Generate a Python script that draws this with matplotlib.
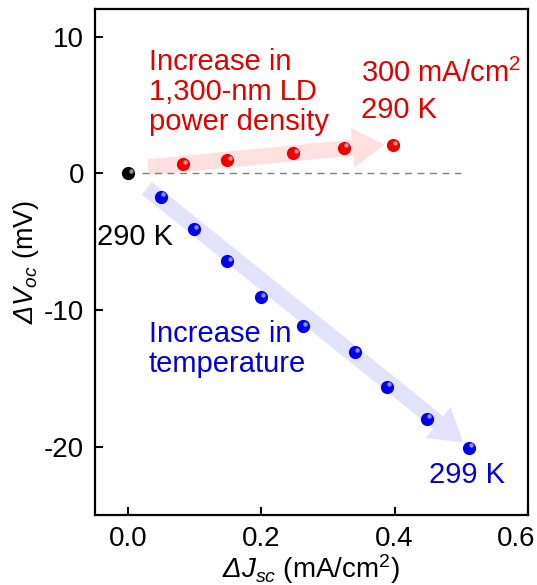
import numpy as np
import matplotlib
matplotlib.use('Agg')
import matplotlib.pyplot as plt
from matplotlib.patches import FancyArrowPatch
from matplotlib import transforms

plt.rcParams['font.family'] = ['Liberation Sans', 'DejaVu Sans']
plt.rcParams['mathtext.fontset'] = 'custom'
# axis-label math is all italic in the original (Delta included)
plt.rcParams['mathtext.rm'] = 'Liberation Sans:italic'
plt.rcParams['mathtext.it'] = 'Liberation Sans:italic'
plt.rcParams['mathtext.sf'] = 'Liberation Sans'

# ---- data
origin_j = [0.0]
origin_v = [0.0]

# increasing 1,300-nm LD power density (290 K)
ld_j = [0.082, 0.149, 0.248, 0.324, 0.398]
ld_v = [0.68, 0.97, 1.46, 1.87, 2.07]

# increasing temperature 290 -> 299 K
temp_j = [0.049, 0.099, 0.149, 0.199, 0.262, 0.340, 0.389, 0.449, 0.512]
temp_v = [-1.71, -4.09, -6.45, -9.08, -11.2, -13.1, -15.6, -17.96, -20.07]

# guide arrows (tail, tip)
ld_arrow = [(0.03, 0.45), (0.385, 2.1)]
temp_arrow = [(0.028, -1.1), (0.503, -19.7)]

xticks = [0.0, 0.2, 0.4, 0.6]
yticks = [10, 0, -10, -20]

fig = plt.figure(figsize=(5.37, 5.85), dpi=100)
ax = fig.add_axes([0.1769, 0.1197, 0.8058, 0.8643])

ax.set_xlim(-0.05, 0.6)
ax.set_ylim(-25, 12)

# arrows in the background
for (tail, tip), col in [(ld_arrow, '#ffe0e0'), (temp_arrow, '#e2e2fa')]:
    arr = FancyArrowPatch(tail, tip, arrowstyle='simple,head_width=2.6,head_length=2.1,tail_width=1.05',
                          mutation_scale=11, color=col, lw=0, shrinkA=0, shrinkB=0, zorder=1)
    ax.add_patch(arr)

ax.plot([0.02, 0.5], [0, 0], ls=(0, (5, 4)), color='#808080', lw=1, zorder=2)


def balls(x, y, col):
    # shaded sphere look: dark body plus a small highlight
    ax.plot(x, y, 'o', ms=9.5, color=col, mec='none', zorder=4)
    hl = transforms.offset_copy(ax.transData, fig=fig, x=1.6, y=1.8, units='points')
    ax.plot(x, y, 'o', ms=3.2, color='white', alpha=0.55, mec='none', transform=hl, zorder=5)


balls(origin_j, origin_v, '#000000')
balls(ld_j, ld_v, '#ee0000')
balls(temp_j, temp_v, '#0000ee')

fs = 21
ax.text(0.031, 5.96, 'Increase in\n1,300-nm LD\npower density', color='#e00000',
        fontsize=fs, ha='left', va='center', linespacing=1.1)
ax.text(0.35, 6.0, r'300 mA/cm$^\mathsf{2}$' + '\n290 K', color='#e00000',
        fontsize=fs, ha='left', va='center', linespacing=1.4)
ax.text(-0.047, -4.63, '290 K', color='black', fontsize=fs, ha='left', va='center')
ax.text(0.031, -12.85, 'Increase in\ntemperature', color='#0000dd',
        fontsize=fs, ha='left', va='center', linespacing=1.1)
ax.text(0.452, -22.1, '299 K', color='#0000dd', fontsize=fs, ha='left', va='center')

ax.set_xticks(xticks)
ax.set_xticklabels(['%.1f' % t for t in xticks])
ax.set_yticks(yticks)
ax.set_yticklabels([str(t) for t in yticks])
ax.tick_params(direction='in', length=6, width=1.5, labelsize=20, pad=8)
for s in ax.spines.values():
    s.set_linewidth(1.6)

# last x tick label pulled in so it stays on the canvas
last = ax.get_xticklabels()[-1]
last.set_transform(last.get_transform() + transforms.ScaledTranslation(-12 / 100, 0, fig.dpi_scale_trans))

ax.set_xlabel(r'$ΔJ_{sc}$ (mA/cm$^\mathsf{2}$)', fontsize=20, labelpad=0)
ax.set_ylabel(r'$ΔV_{oc}$ (mV)', fontsize=19.5, labelpad=2)

fig.savefig('out.png', dpi=100)
